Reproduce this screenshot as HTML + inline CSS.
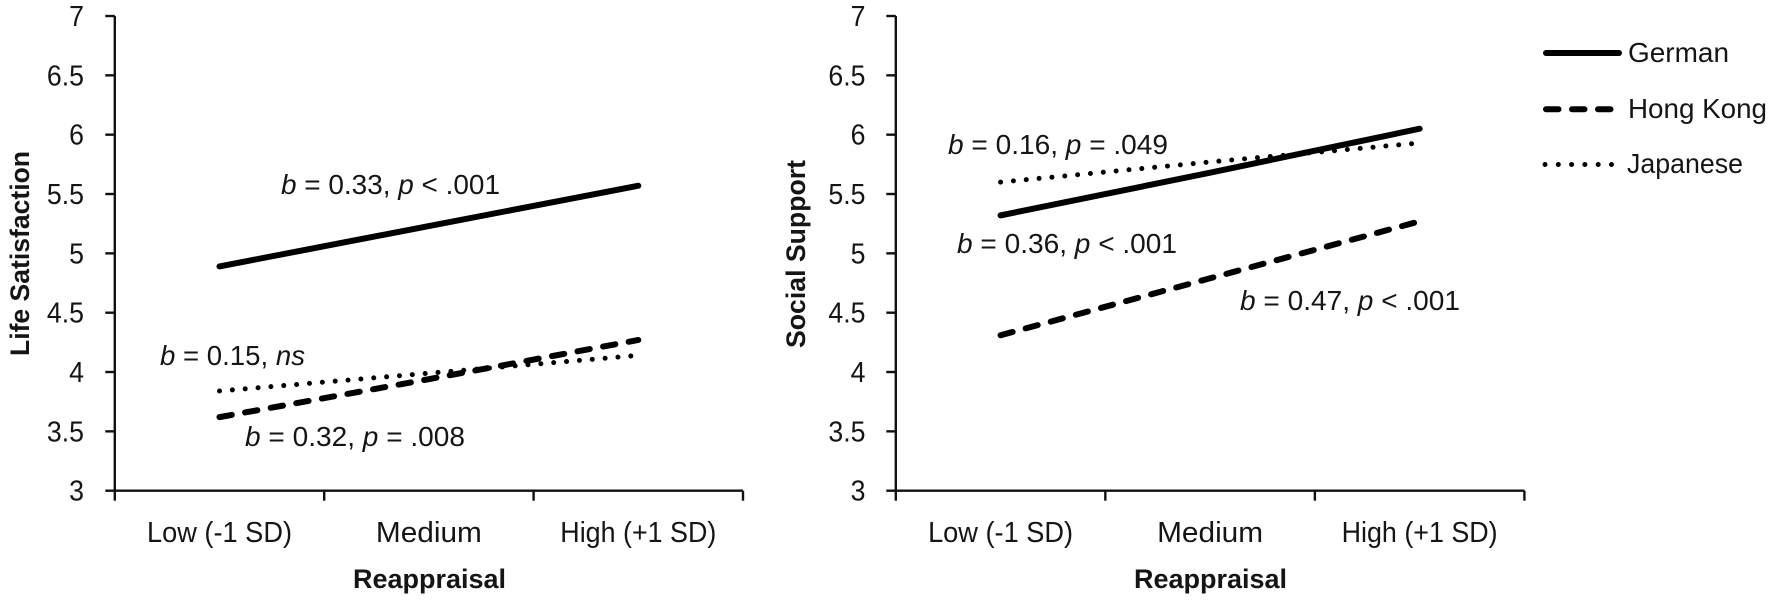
<!DOCTYPE html>
<html lang="en">
<head>
<meta charset="utf-8">
<title>Reappraisal moderation charts</title>
<style>
  html, body { margin: 0; padding: 0; background: #fff; }
  svg { display: block; }
  text { font-family: "Liberation Sans", sans-serif; fill: #151515; }
  .tick { font-size: 29px; }
  .note { font-size: 28px; }
  .title { font-size: 27px; font-weight: bold; }
  .legend-label { font-size: 28px; }
  .axis { stroke: #111; stroke-width: 2.4; fill: none; }
</style>
</head>
<body>
<svg id="chart" width="1772" height="600" viewBox="0 0 1772 600" xmlns="http://www.w3.org/2000/svg">
  <g id="panel-left">
    <text class="title" transform="translate(29,356) rotate(-90)" textLength="205" lengthAdjust="spacingAndGlyphs">Life Satisfaction</text>
    <text class="title" x="353" y="588" textLength="153" lengthAdjust="spacingAndGlyphs">Reappraisal</text>
    <text class="note" x="281" y="194" textLength="219" lengthAdjust="spacingAndGlyphs"><tspan font-style="italic">b</tspan> = 0.33, <tspan font-style="italic">p</tspan> &lt; .001</text>
    <text class="note" x="160" y="365" textLength="145" lengthAdjust="spacingAndGlyphs"><tspan font-style="italic">b</tspan> = 0.15, <tspan font-style="italic">ns</tspan></text>
    <text class="note" x="245" y="446" textLength="220" lengthAdjust="spacingAndGlyphs"><tspan font-style="italic">b</tspan> = 0.32, <tspan font-style="italic">p</tspan> = .008</text>
  </g>
  <g id="panel-right">
    <text class="title" transform="translate(805,348) rotate(-90)" textLength="188" lengthAdjust="spacingAndGlyphs">Social Support</text>
    <text class="title" x="1134" y="588" textLength="153" lengthAdjust="spacingAndGlyphs">Reappraisal</text>
    <text class="note" x="948" y="154" textLength="220" lengthAdjust="spacingAndGlyphs"><tspan font-style="italic">b</tspan> = 0.16, <tspan font-style="italic">p</tspan> = .049</text>
    <text class="note" x="957" y="253" textLength="220" lengthAdjust="spacingAndGlyphs"><tspan font-style="italic">b</tspan> = 0.36, <tspan font-style="italic">p</tspan> &lt; .001</text>
    <text class="note" x="1240" y="310" textLength="220" lengthAdjust="spacingAndGlyphs"><tspan font-style="italic">b</tspan> = 0.47, <tspan font-style="italic">p</tspan> &lt; .001</text>
  </g>
  <g id="legend">
    <g>
      <line x1="1546" x2="1619" y1="53" y2="53" stroke="#000" stroke-width="6" stroke-linecap="round"/>
      <text class="legend-label" x="1628" y="62" textLength="101" lengthAdjust="spacingAndGlyphs">German</text>
    </g>
    <g>
      <line x1="1546" x2="1611" y1="109.3" y2="109.3" stroke="#000" stroke-width="6" stroke-linecap="round" stroke-dasharray="12.5 13.5"/>
      <text class="legend-label" x="1628" y="118" textLength="139" lengthAdjust="spacingAndGlyphs">Hong Kong</text>
    </g>
    <g>
      <line x1="1545" x2="1613" y1="164.5" y2="164.5" stroke="#000" stroke-width="5" stroke-linecap="round" stroke-dasharray="0 13.3"/>
      <text class="legend-label" x="1627" y="173" textLength="116" lengthAdjust="spacingAndGlyphs">Japanese</text>
    </g>
  </g>
</svg>
<script>
const categories = ['Low (-1 SD)', 'Medium', 'High (+1 SD)'];
const yTicks = [3, 3.5, 4, 4.5, 5, 5.5, 6, 6.5, 7];
const lifeGerman = [4.89, 5.23, 5.57];
const lifeHongKong = [3.62, 3.94, 4.27];
const lifeJapanese = [3.84, 3.99, 4.14];
const socialGerman = [5.32, 5.68, 6.05];
const socialHongKong = [4.31, 4.79, 5.27];
const socialJapanese = [5.60, 5.77, 5.93];

const SVG_NS = 'http://www.w3.org/2000/svg';
const yTop = 16, yBottom = 490.7;
const yMin = 3, yMax = 7;
function yScale(v) {
  return yBottom - (v - yMin) / (yMax - yMin) * (yBottom - yTop);
}
function makeXScale(left, right) {
  return function (i) {
    return left + (i + 0.5) * (right - left) / categories.length;
  };
}
const categoryWidths = [145, 106, 156];
const seriesStyles = {
  german: { width: 6, dash: null },
  hongKong: { width: 6, dash: '12.5 13.5' },
  japanese: { width: 5, dash: '0 12.9' }
};

function svgEl(tag, parent) {
  const el = document.createElementNS(SVG_NS, tag);
  parent.appendChild(el);
  return el;
}
function drawLine(parent, x1, y1, x2, y2) {
  const el = svgEl('line', parent);
  el.setAttribute('class', 'axis');
  el.setAttribute('x1', x1);
  el.setAttribute('y1', y1);
  el.setAttribute('x2', x2);
  el.setAttribute('y2', y2);
  return el;
}
function drawAxes(parent, left, right, tickRight) {
  const x = makeXScale(left, right);
  const yAxis = drawLine(parent, left, yTop, left, yBottom);
  
  
  const xAxis = drawLine(parent, left, yBottom, right, yBottom);
  
  
  yTicks.forEach(function (t) {
    const tick = drawLine(parent, left - 9.5, yScale(t), left, yScale(t));
    
    
    const label = svgEl('text', parent);
    label.setAttribute('class', 'tick');
    label.setAttribute('text-anchor', 'end');
    label.setAttribute('transform', 'translate(' + tickRight + ',' + (yScale(t) + 10) + ') scale(0.92,1)');
    label.textContent = String(t);
    
    
  });
  for (let i = 0; i <= categories.length; i++) {
    const px = left + i * (right - left) / categories.length;
    const tick = drawLine(parent, px, yBottom, px, yBottom + 10);
    
    
  }
  categories.forEach(function (c, i) {
    const label = svgEl('text', parent);
    label.setAttribute('class', 'tick');
    label.setAttribute('x', x(i) - categoryWidths[i] / 2);
    label.setAttribute('y', 542);
    label.setAttribute('textLength', categoryWidths[i]);
    label.setAttribute('lengthAdjust', 'spacingAndGlyphs');
    label.textContent = c;
    
    
  });
}
function drawSeries(parent, values, style, x) {
  const el = svgEl('polyline', parent);
  const pts = values.map(function (v, i) { return x(i) + ',' + yScale(v); }).join(' ');
  el.setAttribute('points', pts);
  el.setAttribute('fill', 'none');
  el.setAttribute('stroke', '#000');
  el.setAttribute('stroke-width', style.width);
  el.setAttribute('stroke-linecap', 'round');
  el.setAttribute('stroke-linejoin', 'round');
  if (style.dash) el.setAttribute('stroke-dasharray', style.dash);
  return el;
}

const panelLeft = document.getElementById('panel-left');
const panelRight = document.getElementById('panel-right');
const leftX = makeXScale(114.8, 743);
const rightX = makeXScale(895.8, 1524.4);
drawAxes(panelLeft, 114.8, 743, 84);
drawAxes(panelRight, 895.8, 1524.4, 865.5);

const s1 = drawSeries(panelLeft, lifeGerman, seriesStyles.german, leftX);


const s2 = drawSeries(panelLeft, lifeHongKong, seriesStyles.hongKong, leftX);


const s3 = drawSeries(panelLeft, lifeJapanese, seriesStyles.japanese, leftX);


const s4 = drawSeries(panelRight, socialGerman, seriesStyles.german, rightX);


const s5 = drawSeries(panelRight, socialHongKong, seriesStyles.hongKong, rightX);


const s6 = drawSeries(panelRight, socialJapanese, seriesStyles.japanese, rightX);


</script>
</body>
</html>
